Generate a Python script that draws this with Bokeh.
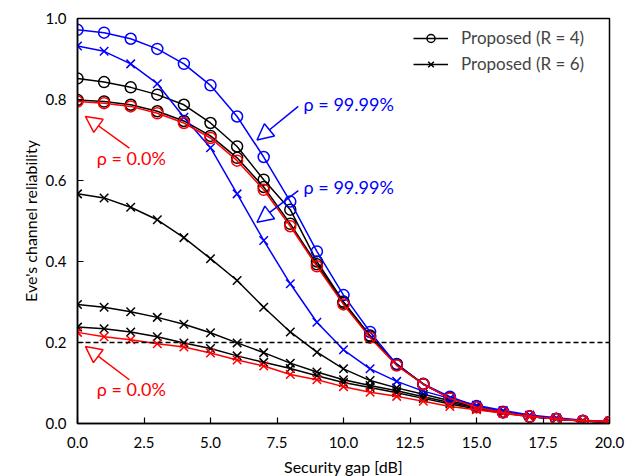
from bokeh.plotting import figure
from bokeh.models import (Legend, LegendItem, Span, Arrow, NormalHead, Label,
                          Range1d, FixedTicker, NumeralTickFormatter)
from bokeh.embed import file_html
from bokeh.resources import INLINE

# ---------------- data ----------------
gap = list(range(0, 21))

r4_rho9999 = [0.972, 0.965, 0.950, 0.925, 0.888, 0.835, 0.758, 0.658, 0.548, 0.425, 0.317,
              0.226, 0.145, 0.097, 0.066, 0.043, 0.029, 0.017, 0.012, 0.007, 0.004]
r4_mid_a = [0.852, 0.843, 0.830, 0.812, 0.787, 0.742, 0.684, 0.602, 0.528, 0.400, 0.301,
            0.217, 0.147, 0.097, 0.063, 0.041, 0.028, 0.017, 0.011, 0.006, 0.003]
r4_mid_b = [0.799, 0.795, 0.787, 0.771, 0.747, 0.710, 0.656, 0.584, 0.493, 0.393, 0.298,
            0.215, 0.145, 0.098, 0.063, 0.041, 0.028, 0.017, 0.011, 0.006, 0.003]
r4_rho0 = [0.795, 0.791, 0.783, 0.766, 0.742, 0.705, 0.649, 0.577, 0.487, 0.388, 0.294,
           0.212, 0.143, 0.097, 0.062, 0.040, 0.027, 0.017, 0.011, 0.006, 0.003]

r6_rho9999 = [0.932, 0.919, 0.888, 0.839, 0.756, 0.681, 0.567, 0.452, 0.345, 0.250, 0.182,
              0.135, 0.104, 0.080, 0.062, 0.045, 0.032, 0.021, 0.014, 0.008, 0.005]
r6_mid_a = [0.567, 0.557, 0.534, 0.503, 0.459, 0.407, 0.353, 0.287, 0.226, 0.176, 0.135,
            0.106, 0.088, 0.072, 0.056, 0.041, 0.029, 0.019, 0.012, 0.007, 0.004]
r6_mid_b = [0.294, 0.287, 0.276, 0.262, 0.245, 0.224, 0.199, 0.175, 0.149, 0.127, 0.108,
            0.094, 0.081, 0.066, 0.052, 0.039, 0.028, 0.018, 0.012, 0.007, 0.004]
r6_mid_c = [0.238, 0.234, 0.226, 0.214, 0.199, 0.185, 0.167, 0.151, 0.136, 0.118, 0.101,
            0.089, 0.076, 0.062, 0.048, 0.036, 0.026, 0.017, 0.011, 0.006, 0.004]
r6_rho0 = [0.225, 0.214, 0.207, 0.197, 0.189, 0.174, 0.157, 0.142, 0.121, 0.108, 0.091,
           0.077, 0.067, 0.055, 0.042, 0.034, 0.025, 0.017, 0.011, 0.007, 0.006]

threshold = 0.2
x_ticks = [0, 2.5, 5, 7.5, 10, 12.5, 15, 17.5, 20]
y_ticks = [0, 0.2, 0.4, 0.6, 0.8, 1.0]
legend_labels = ["Proposed (R = 4)", "Proposed (R = 6)"]
label_rho_high = "ρ = 99.99%"
label_rho_low = "ρ = 0.0%"

# ---------------- figure ----------------
FONT = "Lato"
p = figure(frame_width=532, frame_height=405,
           min_border_left=77, min_border_right=23, min_border_top=18, min_border_bottom=53,
           x_range=Range1d(0, 20), y_range=Range1d(0, 1.0),
           output_backend="svg", toolbar_location=None)

p.xgrid.visible = False
p.ygrid.visible = False
p.outline_line_color = "black"
p.outline_line_width = 1.5
p.outline_line_alpha = 1.0

for ax in (p.xaxis[0], p.yaxis[0]):
    ax.axis_line_width = 1.5
    ax.major_tick_in = 6
    ax.major_tick_out = 0
    ax.minor_tick_in = 0
    ax.minor_tick_out = 0
    ax.major_tick_line_width = 1.2
    ax.major_label_text_font = FONT
    ax.major_label_text_font_size = "15px"
    ax.major_label_text_color = "black"
    ax.axis_label_text_font = FONT
    ax.axis_label_text_font_size = "16px"
    ax.axis_label_text_font_style = "normal"
    ax.axis_label_text_color = "black"

p.xaxis.major_label_standoff = 13
p.yaxis.major_label_standoff = 11

p.xaxis.ticker = FixedTicker(ticks=x_ticks)
p.yaxis.ticker = FixedTicker(ticks=y_ticks)
p.xaxis.formatter = NumeralTickFormatter(format="0.0")
p.yaxis.formatter = NumeralTickFormatter(format="0.0")
p.xaxis.axis_label = "Security gap [dB]"
p.yaxis.axis_label = "Eve's channel reliability"
p.xaxis.axis_label_standoff = 6
p.yaxis.axis_label_standoff = 3

LW = 1.5
CS = 11
XS = 12


def series(y, color, marker):
    ln = p.line(gap, y, line_color=color, line_width=LW)
    if marker == "circle":
        sc = p.scatter(gap, y, marker="circle", size=CS, line_color=color,
                       line_width=LW, fill_alpha=0)
    else:
        sc = p.scatter(gap, y, marker="x", size=XS, line_color=color, line_width=LW)
    return [ln, sc]


# black (intermediate rho) first, then blue, then red on top
leg_r4 = series(r4_mid_a, "black", "circle")
series(r4_mid_b, "black", "circle")
leg_r6 = series(r6_mid_a, "black", "x")
series(r6_mid_b, "black", "x")
series(r6_mid_c, "black", "x")

series(r4_rho9999, "#0000ff", "circle")
series(r6_rho9999, "#0000ff", "x")

series(r4_rho0, "#ff0000", "circle")
series(r6_rho0, "#ff0000", "x")

p.add_layout(Span(location=threshold, dimension="width", line_color="black",
                  line_width=1.5, line_dash="5 3"))

# ---------------- annotations ----------------
def arrow(color, xs, ys, xe, ye):
    p.add_layout(Arrow(end=NormalHead(size=16, fill_color="white", line_color=color,
                                      line_width=1.5),
                       x_start=xs, y_start=ys, x_end=xe, y_end=ye,
                       line_color=color, line_width=1.5))


def label(txt, color, x, y):
    p.add_layout(Label(x=x, y=y, text=txt, text_color=color, text_font=FONT,
                       text_font_size="18px", text_baseline="middle", text_align="left"))


arrow("#0000ff", 8.3, 0.783, 6.75, 0.700)
label(label_rho_high, "#0000ff", 8.5, 0.79)
arrow("#0000ff", 8.3, 0.575, 6.75, 0.497)
label(label_rho_high, "#0000ff", 8.5, 0.585)

arrow("#ff0000", 1.95, 0.680, 0.3, 0.758)
label(label_rho_low, "#ff0000", 0.72, 0.655)
arrow("#ff0000", 1.95, 0.108, 0.3, 0.190)
label(label_rho_low, "#ff0000", 0.72, 0.085)

# ---------------- legend ----------------
legend = Legend(items=[LegendItem(label=legend_labels[0], renderers=leg_r4),
                       LegendItem(label=legend_labels[1], renderers=leg_r6)],
                location="top_right", border_line_alpha=0, background_fill_alpha=1,
                label_text_font=FONT, label_text_font_size="17px",
                glyph_width=35, glyph_height=20, label_height=20, label_width=139,
                label_standoff=13, spacing=5, padding=7, margin=2)
p.add_layout(legend)

open("out.html", "w").write(file_html(p, INLINE))
